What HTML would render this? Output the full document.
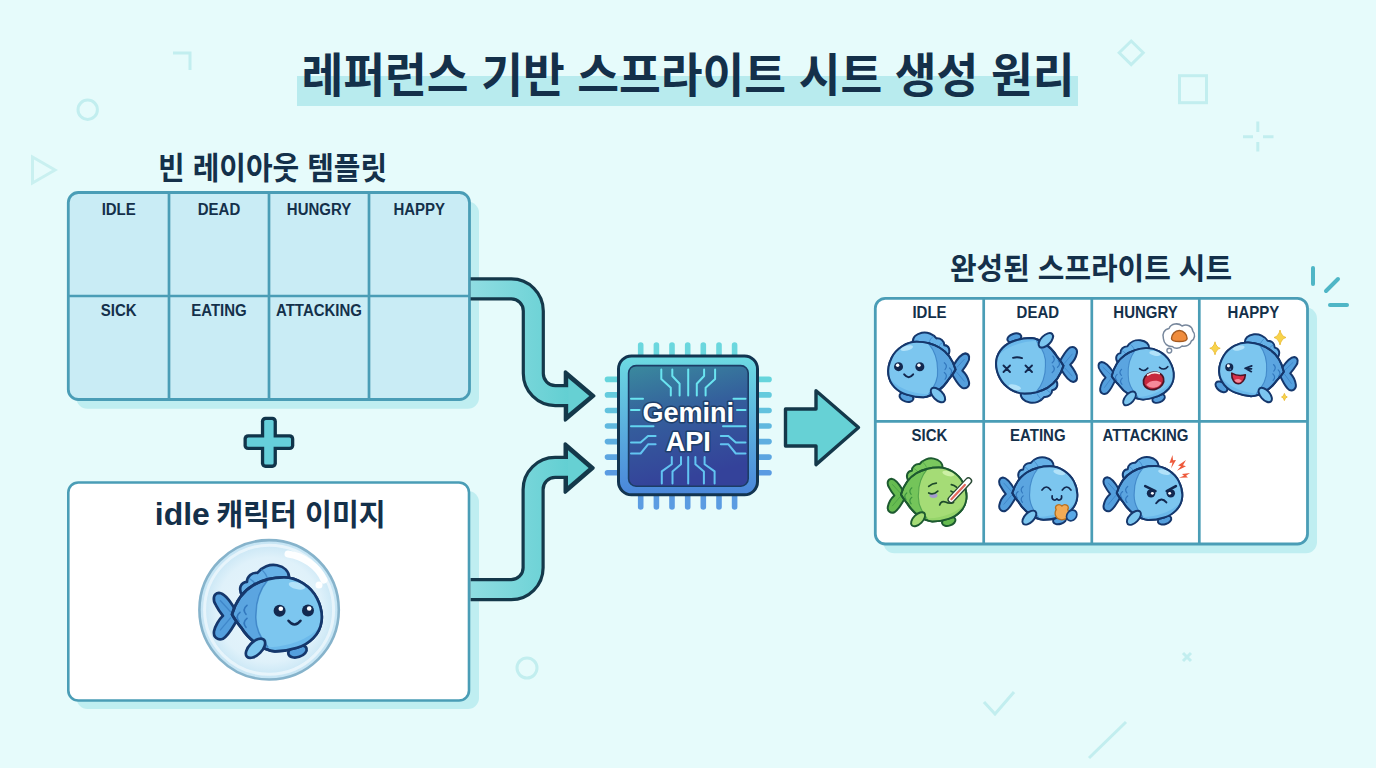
<!DOCTYPE html>
<html lang="ko"><head><meta charset="utf-8"><title>레퍼런스 기반 스프라이트 시트 생성 원리</title>
<style>html,body{margin:0;padding:0;background:#e6fbfb;overflow:hidden}svg{display:block}text{font-kerning:normal}</style></head>
<body><svg width="1376" height="768" viewBox="0 0 1376 768">
<defs>
<linearGradient id="gArrow" x1="0" y1="0" x2="1" y2="0"><stop offset="0" stop-color="#8fdde2"/><stop offset="1" stop-color="#62cfd2"/></linearGradient>
<linearGradient id="gFrame" x1="0" y1="0" x2="0" y2="1"><stop offset="0" stop-color="#6ddbe2"/><stop offset="1" stop-color="#4a86da"/></linearGradient>
<linearGradient id="gPanel" x1="0" y1="0" x2="0.25" y2="1"><stop offset="0" stop-color="#3a8a9e"/><stop offset="0.45" stop-color="#345f9c"/><stop offset="1" stop-color="#34429a"/></linearGradient>
<linearGradient id="gPinV" x1="0" y1="0" x2="0" y2="1" gradientUnits="userSpaceOnUse"><stop offset="0" stop-color="#62d3da"/><stop offset="1" stop-color="#5a9be2"/></linearGradient>
<radialGradient id="gBubble" cx="0.5" cy="0.5" r="0.5"><stop offset="0" stop-color="#e9f6fc"/><stop offset="0.75" stop-color="#dff1fa"/><stop offset="1" stop-color="#c4e4f4"/></radialGradient>
</defs>
<rect width="1376" height="768" fill="#e6fbfb"/>
<g fill="none" stroke="#c2eeef" stroke-width="3" stroke-linecap="butt" stroke-linejoin="miter">
<path d="M173,53 H190 V70"/>
<circle cx="87.700" cy="109.700" r="9.700"/>
<path d="M32.500,157 L55,170 L32.500,183 Z" stroke="#c9f0f0"/>
<path d="M1131.2,41 L1143.2,52.800 L1131.2,64.600 L1119.2,52.800 Z"/>
<rect x="1179.5" y="75.700" width="27" height="27"/>
<path d="M1257.8,121.500 V132 M1257.8,142 V151.500 M1243,136.800 H1253 M1263,136.800 H1273.500"/>
<circle cx="527" cy="668" r="10"/>
<path d="M1183,653 L1191,661 M1191,653 L1183,661"/>
<path d="M984,702 L995,714 L1014,692"/>
<path d="M1089,758 L1126,722"/>
</g>
<g fill="none" stroke="#4fb6c6" stroke-width="4" stroke-linecap="round"><path d="M1313,268 V284"/><path d="M1326,291 L1338,279"/><path d="M1330,305 H1347"/></g>
<rect x="297" y="76" width="781" height="30" fill="#b8ebee"/>
<text x="688" y="92" text-anchor="middle" font-family='"Liberation Sans", "Noto Sans CJK KR", sans-serif' font-weight="700" font-size="46.4" fill="#14304a" textLength="773" lengthAdjust="spacingAndGlyphs">레퍼런스 기반 스프라이트 시트 생성 원리</text>
<text x="272.6" y="178.8" text-anchor="middle" font-family='"Liberation Sans", "Noto Sans CJK KR", sans-serif' font-weight="700" font-size="31" fill="#14304a" textLength="229" lengthAdjust="spacingAndGlyphs">빈 레이아웃 템플릿</text>
<rect x="76.3" y="201.8" width="402.7" height="207.0" rx="11" fill="#bfeef1"/>
<rect x="68.3" y="192.5" width="401.2" height="207.0" rx="10" fill="#c9ecf5" stroke="#4a9db6" stroke-width="2.8"/>
<path d="M169,192.5 V399.5 M269,192.5 V399.5 M369,192.5 V399.5 M68.3,296 H469.5" stroke="#4a9db6" stroke-width="2.7" fill="none"/>
<text transform="translate(118.7,215) scale(1,1.12)" text-anchor="middle" font-family='"Liberation Sans", "Noto Sans CJK KR", sans-serif' font-weight="700" font-size="15" fill="#14304a">IDLE</text>
<text transform="translate(219.0,215) scale(1,1.12)" text-anchor="middle" font-family='"Liberation Sans", "Noto Sans CJK KR", sans-serif' font-weight="700" font-size="15" fill="#14304a">DEAD</text>
<text transform="translate(319.0,215) scale(1,1.12)" text-anchor="middle" font-family='"Liberation Sans", "Noto Sans CJK KR", sans-serif' font-weight="700" font-size="15" fill="#14304a">HUNGRY</text>
<text transform="translate(419.2,215) scale(1,1.12)" text-anchor="middle" font-family='"Liberation Sans", "Noto Sans CJK KR", sans-serif' font-weight="700" font-size="15" fill="#14304a">HAPPY</text>
<text transform="translate(118.7,316) scale(1,1.12)" text-anchor="middle" font-family='"Liberation Sans", "Noto Sans CJK KR", sans-serif' font-weight="700" font-size="15" fill="#14304a">SICK</text>
<text transform="translate(219.0,316) scale(1,1.12)" text-anchor="middle" font-family='"Liberation Sans", "Noto Sans CJK KR", sans-serif' font-weight="700" font-size="15" fill="#14304a">EATING</text>
<text transform="translate(319.0,316) scale(1,1.12)" text-anchor="middle" font-family='"Liberation Sans", "Noto Sans CJK KR", sans-serif' font-weight="700" font-size="15" fill="#14304a">ATTACKING</text>
<rect x="260.9" y="416.7" width="16" height="51.2" rx="4.6" fill="#10344a"/><rect x="243.5" y="434.2" width="50.8" height="15.9" rx="4.6" fill="#10344a"/>
<rect x="264.2" y="420" width="9.4" height="44.6" rx="1.6" fill="#66cfda"/><rect x="246.8" y="437.5" width="44.2" height="9.3" rx="1.6" fill="#66cfda"/>
<rect x="76.5" y="491" width="402.5" height="218" rx="11" fill="#bfeef1"/>
<rect x="68.3" y="482.5" width="400.7" height="218" rx="10" fill="#ffffff" stroke="#4a9db6" stroke-width="2.6"/>
<text y="525" font-family='"Liberation Sans", "Noto Sans CJK KR", sans-serif' font-weight="700" fill="#14304a"><tspan x="154.8" font-size="31.5" textLength="55" lengthAdjust="spacingAndGlyphs">idle</tspan><tspan font-size="28.5" textLength="8" lengthAdjust="spacingAndGlyphs"> </tspan><tspan x="216.2" y="525.4" font-size="29.6" textLength="169.5" lengthAdjust="spacingAndGlyphs">캐릭터 이미지</tspan></text>
<g>
<path d="M470.6,288.9 H511.3 A22,22 0 0 1 533.3,310.9 V373.6 A22,22 0 0 0 555.3,395.6 H570" fill="none" stroke="#14384a" stroke-width="23.2"/>
<polygon points="565.3,371.8 593.9,395.9 565.3,420.1" fill="#14384a" stroke="#14384a" stroke-width="3.2" stroke-linejoin="round"/>
<path d="M470.6,288.9 H511.3 A22,22 0 0 1 533.3,310.9 V373.6 A22,22 0 0 0 555.3,395.6 H570" fill="none" stroke="url(#gArrow)" stroke-width="16.8"/>
<polygon points="568.2,378.2 589.3,395.9 568.2,413.6" fill="#66d0d3"/>
<path d="M470.6,589.7 H511.1 A22,22 0 0 0 533.1,567.7 V489.4 A22,22 0 0 1 555.1,467.4 H570" fill="none" stroke="#14384a" stroke-width="23.2"/>
<polygon points="565.1,443.8 593.2,468 565.1,492.2" fill="#14384a" stroke="#14384a" stroke-width="3.2" stroke-linejoin="round"/>
<path d="M470.6,589.7 H511.1 A22,22 0 0 0 533.1,567.7 V489.4 A22,22 0 0 1 555.1,467.4 H570" fill="none" stroke="url(#gArrow)" stroke-width="16.8"/>
<polygon points="568,450.2 588.6,468 568,485.8" fill="#66d0d3"/>
</g>
<path d="M785.5,409 H816 V390.8 L858.5,427.5 L816,464.6 V446 H785.5 Z" fill="#66d1d5" stroke="#14384a" stroke-width="3.4" stroke-linejoin="round"/>
<g stroke-linecap="round" stroke-width="5.6" fill="none">
<path d="M640.7,345 V358" stroke="#6bd7de"/>
<path d="M640.7,492 V507" stroke="#5b9ce2"/>
<path d="M656.4,345 V358" stroke="#6bd7de"/>
<path d="M656.4,492 V507" stroke="#5b9ce2"/>
<path d="M672.0,345 V358" stroke="#6bd7de"/>
<path d="M672.0,492 V507" stroke="#5b9ce2"/>
<path d="M687.7,345 V358" stroke="#6bd7de"/>
<path d="M687.7,492 V507" stroke="#5b9ce2"/>
<path d="M703.3,345 V358" stroke="#6bd7de"/>
<path d="M703.3,492 V507" stroke="#5b9ce2"/>
<path d="M719.0,345 V358" stroke="#6bd7de"/>
<path d="M719.0,492 V507" stroke="#5b9ce2"/>
<path d="M734.6,345 V358" stroke="#6bd7de"/>
<path d="M734.6,492 V507" stroke="#5b9ce2"/>
<path d="M607.5,379.4 H620" stroke="#66d5dc"/>
<path d="M756,379.4 H769" stroke="#66d5dc"/>
<path d="M607.5,394.9 H620" stroke="#64cbdd"/>
<path d="M756,394.9 H769" stroke="#64cbdd"/>
<path d="M607.5,410.5 H620" stroke="#62c2de"/>
<path d="M756,410.5 H769" stroke="#62c2de"/>
<path d="M607.5,426.0 H620" stroke="#60b8df"/>
<path d="M756,426.0 H769" stroke="#60b8df"/>
<path d="M607.5,441.6 H620" stroke="#5eaee0"/>
<path d="M756,441.6 H769" stroke="#5eaee0"/>
<path d="M607.5,457.1 H620" stroke="#5ca5e1"/>
<path d="M756,457.1 H769" stroke="#5ca5e1"/>
<path d="M607.5,472.7 H620" stroke="#5a9be2"/>
<path d="M756,472.7 H769" stroke="#5a9be2"/>
</g>
<rect x="618.5" y="356.0" width="139.0" height="138.8" rx="13" fill="url(#gFrame)" stroke="#123450" stroke-width="3"/>
<rect x="628.6" y="365.6" width="119.6" height="120.6" rx="7.5" fill="url(#gPanel)" stroke="#1c3d66" stroke-width="1.6"/>
<g fill="none" stroke="#6ae4f0" stroke-width="2" stroke-linecap="round" stroke-linejoin="round">
<path d="M661.3,369.5 V379 L670.8,387.7 V395.5"/><path d="M672.3,369.5 V376 L679.6,383.8 V395.5"/><path d="M688.2,369.5 V395.5"/><path d="M704.1,369.5 V376 L696.8,383.8 V395.5"/><path d="M715.1,369.5 V379 L705.6,387.7 V395.5"/>
<path d="M671.8,457 V464.3 L661.8,471.4 V483.5" stroke="#62c4f2"/><path d="M681,457 V464.3 L672.5,471.4 V483.5" stroke="#62c4f2"/><path d="M688.2,457 V483.5" stroke="#62c4f2"/><path d="M695.4,457 V464.3 L703.9,471.4 V483.5" stroke="#62c4f2"/><path d="M704.6,457 V464.3 L714.6,471.4 V483.5" stroke="#62c4f2"/>
<path d="M631,398.700 H643"/><path d="M631,409.900 H639.500"/><path d="M631,426.300 H653.500" stroke="#62d4f0"/><path d="M631,442.400 H640.600 L648,435.900 H655.600" stroke="#62ccf0"/><path d="M631,453.500 H640.600 L648,444.300 H655.600" stroke="#62c4f2"/>
<path d="M745.500,398.700 H733.500"/><path d="M745.500,409.900 H737"/><path d="M745.500,426.300 H723" stroke="#62d4f0"/><path d="M745.500,442.400 H735.800 L728.400,435.900 H720.800" stroke="#62ccf0"/><path d="M745.500,453.500 H735.800 L728.400,444.300 H720.800" stroke="#62c4f2"/>
</g>
<g font-family='"Liberation Sans", "Noto Sans CJK KR", sans-serif' font-weight="700" font-size="27" text-anchor="middle" fill="#ffffff" stroke="#1f3f6a" stroke-width="3" stroke-linejoin="round" paint-order="stroke"><text x="688.3" y="422.3">Gemini</text><text x="688.3" y="451.2">API</text></g>
<text x="1091" y="279" text-anchor="middle" font-family='"Liberation Sans", "Noto Sans CJK KR", sans-serif' font-weight="700" font-size="30" fill="#14304a" textLength="282" lengthAdjust="spacingAndGlyphs">완성된 스프라이트 시트</text>
<rect x="883.3" y="307.6" width="433.70000000000005" height="245.7" rx="11" fill="#bfeef1"/>
<rect x="875.3" y="298.3" width="432.20000000000005" height="245.7" rx="10" fill="#ffffff" stroke="#4a9db6" stroke-width="2.8"/>
<path d="M983.7,298.3 V544 M1091.8,298.3 V544 M1199.3,298.3 V544 M875.3,421.4 H1307.5" stroke="#4a9db6" stroke-width="2.7" fill="none"/>
<text transform="translate(929.5,317.9) scale(1,1.06)" text-anchor="middle" font-family='"Liberation Sans", "Noto Sans CJK KR", sans-serif' font-weight="700" font-size="15" fill="#14304a">IDLE</text>
<text transform="translate(1037.8,317.9) scale(1,1.06)" text-anchor="middle" font-family='"Liberation Sans", "Noto Sans CJK KR", sans-serif' font-weight="700" font-size="15" fill="#14304a">DEAD</text>
<text transform="translate(1145.5,317.9) scale(1,1.06)" text-anchor="middle" font-family='"Liberation Sans", "Noto Sans CJK KR", sans-serif' font-weight="700" font-size="15" fill="#14304a">HUNGRY</text>
<text transform="translate(1253.4,317.9) scale(1,1.06)" text-anchor="middle" font-family='"Liberation Sans", "Noto Sans CJK KR", sans-serif' font-weight="700" font-size="15" fill="#14304a">HAPPY</text>
<text transform="translate(929.5,440.7) scale(1,1.06)" text-anchor="middle" font-family='"Liberation Sans", "Noto Sans CJK KR", sans-serif' font-weight="700" font-size="15" fill="#14304a">SICK</text>
<text transform="translate(1037.8,440.7) scale(1,1.06)" text-anchor="middle" font-family='"Liberation Sans", "Noto Sans CJK KR", sans-serif' font-weight="700" font-size="15" fill="#14304a">EATING</text>
<text transform="translate(1145.5,440.7) scale(1,1.06)" text-anchor="middle" font-family='"Liberation Sans", "Noto Sans CJK KR", sans-serif' font-weight="700" font-size="15" fill="#14304a">ATTACKING</text>
<circle cx="269.1" cy="609.8" r="69.7" fill="url(#gBubble)" stroke="#86b3cb" stroke-width="2.6"/>
<circle cx="269.1" cy="609.8" r="64.5" fill="none" stroke="#f2fafe" stroke-width="3" opacity=".7"/>
<path d="M288,554 C303,556 318,566 324,580" fill="none" stroke="#ffffff" stroke-width="7" stroke-linecap="round" opacity=".95"/>
<circle cx="319" cy="585" r="3.5" fill="#ffffff"/>
<g transform="translate(277,614.3) rotate(0) scale(1.0000,1.0000)" stroke-linejoin="round"><ellipse cx="20.5" cy="37" rx="9.500" ry="5.800" transform="rotate(-18 20.5 37)" fill="#549fdd" stroke="#15376c" stroke-width="2.7"/><path d="M -35,-19 C -39,-26 -36,-32 -30,-32.5 C -30,-38 -25,-42 -19.5,-41.5 C -15,-47.5 -7,-50.5 0,-49 C 7,-47.5 12.5,-43 12,-36 L 0,-28 Z" fill="#66b1e7" stroke="#15376c" stroke-width="2.7"/><path d="M -28,-36 C -24,-34 -22,-31 -21,-28 M -16,-45 C -12,-42 -10,-38 -9,-34" fill="none" stroke="#3277bd" stroke-width="1.300" opacity=".6"/><path d="M -42,-5 C -46,-12 -52,-21 -58,-21.5 C -64,-21 -64.5,-14 -61,-9 C -59,-5 -56,-1 -54,1.5 C -58,5 -62,12 -63,17 C -64,23 -59,26.5 -54,24.5 C -48,21 -44,12 -40,6 Z" fill="#549fdd" stroke="#15376c" stroke-width="2.7"/><path d="M -46,-2 L -57,-14 M -46,3 L -57,16" fill="none" stroke="#3277bd" stroke-width="1.300" opacity=".6"/><path d="M -45,0 C -42,-10 -36,-22 -24,-29 C -14,-35 -4,-37 7,-37 C 20,-37 34,-28 40,-16 C 44,-8 45.5,0 44.5,7 C 43,20 32,30 20,33.5 C 12,36 4,37 -2,37 C -14,36 -28,26 -36,13 C -40,8 -43,4 -45,0 Z" fill="#5ba5e0" stroke="#15376c" stroke-width="2.7"/><path d="M -9,-34.5 C -4,-37 0,-37 7,-37 C 20,-37 34,-28 40,-16 C 44,-8 45.5,0 44.5,7 C 43,20 32,30 20,33.5 C 12,36 4,37 -2,37 C -5,36.5 -7,35 -9,33 C -18,22 -22,10 -21,0 C -21,-12 -17,-25 -9,-34.5 Z" fill="#7cc6ef"/><path d="M -9,33 C 4,33 30,28 43,12 C 42,22 32,30 20,33.500 C 12,36 4,37 -2,37 C -5,36.500 -7,35 -9,33 Z" fill="#6bb9eb"/><ellipse cx="20" cy="-28.500" rx="8.500" ry="3.400" transform="rotate(14 20 -28.500)" fill="#b2e2f9"/><path d="M -9,-34.500 C -17,-25 -21,-12 -21,0 C -22,10 -18,22 -9,33" fill="none" stroke="#3277bd" stroke-width="1.500" opacity=".7"/><g fill="none" stroke="#3277bd" stroke-width="1.600" stroke-linecap="round"><path d="M -30,-9 q -5,4 -1,9"/><path d="M -37,-2 q -5,4 -1,9"/><path d="M -30,4 q -5,4 -1,9"/></g><path d="M -45,0 C -42,-10 -36,-22 -24,-29 C -14,-35 -4,-37 7,-37 C 20,-37 34,-28 40,-16 C 44,-8 45.5,0 44.5,7 C 43,20 32,30 20,33.5 C 12,36 4,37 -2,37 C -14,36 -28,26 -36,13 C -40,8 -43,4 -45,0 Z" fill="none" stroke="#15376c" stroke-width="2.7"/><circle cx="2.6" cy="-3.6" r="6" fill="#12284f"/><circle cx="31" cy="-3.8" r="6" fill="#12284f"/><circle cx="3.8" cy="-5.6" r="2.3" fill="#fff"/><circle cx="32.2" cy="-5.8" r="2.3" fill="#fff"/><path d="M 11.5,6.5 Q 17.5,14 23.5,6.5" fill="none" stroke="#12284f" stroke-width="2.6" stroke-linecap="round"/><ellipse cx="-21.500" cy="34" rx="12" ry="6.500" transform="rotate(-45 -21.500 34)" fill="#7cc6ef" stroke="#15376c" stroke-width="2.7"/></g>
<g transform="translate(921.8,369.5) rotate(0) scale(-0.7500,0.7500)" stroke-linejoin="round"><ellipse cx="20.5" cy="37" rx="9.500" ry="5.800" transform="rotate(-18 20.5 37)" fill="#549fdd" stroke="#15376c" stroke-width="2.7"/><path d="M -35,-19 C -39,-26 -36,-32 -30,-32.5 C -30,-38 -25,-42 -19.5,-41.5 C -15,-47.5 -7,-50.5 0,-49 C 7,-47.5 12.5,-43 12,-36 L 0,-28 Z" fill="#66b1e7" stroke="#15376c" stroke-width="2.7"/><path d="M -28,-36 C -24,-34 -22,-31 -21,-28 M -16,-45 C -12,-42 -10,-38 -9,-34" fill="none" stroke="#3277bd" stroke-width="1.300" opacity=".6"/><path d="M -42,-5 C -46,-12 -52,-21 -58,-21.5 C -64,-21 -64.5,-14 -61,-9 C -59,-5 -56,-1 -54,1.5 C -58,5 -62,12 -63,17 C -64,23 -59,26.5 -54,24.5 C -48,21 -44,12 -40,6 Z" fill="#549fdd" stroke="#15376c" stroke-width="2.7"/><path d="M -46,-2 L -57,-14 M -46,3 L -57,16" fill="none" stroke="#3277bd" stroke-width="1.300" opacity=".6"/><path d="M -45,0 C -42,-10 -36,-22 -24,-29 C -14,-35 -4,-37 7,-37 C 20,-37 34,-28 40,-16 C 44,-8 45.5,0 44.5,7 C 43,20 32,30 20,33.5 C 12,36 4,37 -2,37 C -14,36 -28,26 -36,13 C -40,8 -43,4 -45,0 Z" fill="#5ba5e0" stroke="#15376c" stroke-width="2.7"/><path d="M -9,-34.5 C -4,-37 0,-37 7,-37 C 20,-37 34,-28 40,-16 C 44,-8 45.5,0 44.5,7 C 43,20 32,30 20,33.5 C 12,36 4,37 -2,37 C -5,36.5 -7,35 -9,33 C -18,22 -22,10 -21,0 C -21,-12 -17,-25 -9,-34.5 Z" fill="#7cc6ef"/><path d="M -9,33 C 4,33 30,28 43,12 C 42,22 32,30 20,33.500 C 12,36 4,37 -2,37 C -5,36.500 -7,35 -9,33 Z" fill="#6bb9eb"/><ellipse cx="20" cy="-28.500" rx="8.500" ry="3.400" transform="rotate(14 20 -28.500)" fill="#b2e2f9"/><path d="M -9,-34.500 C -17,-25 -21,-12 -21,0 C -22,10 -18,22 -9,33" fill="none" stroke="#3277bd" stroke-width="1.500" opacity=".7"/><g fill="none" stroke="#3277bd" stroke-width="1.600" stroke-linecap="round"><path d="M -30,-9 q -5,4 -1,9"/><path d="M -37,-2 q -5,4 -1,9"/><path d="M -30,4 q -5,4 -1,9"/></g><path d="M -45,0 C -42,-10 -36,-22 -24,-29 C -14,-35 -4,-37 7,-37 C 20,-37 34,-28 40,-16 C 44,-8 45.5,0 44.5,7 C 43,20 32,30 20,33.5 C 12,36 4,37 -2,37 C -14,36 -28,26 -36,13 C -40,8 -43,4 -45,0 Z" fill="none" stroke="#15376c" stroke-width="2.7"/><circle cx="2.6" cy="-3.6" r="6" fill="#12284f"/><circle cx="31" cy="-3.8" r="6" fill="#12284f"/><circle cx="3.8" cy="-5.6" r="2.3" fill="#fff"/><circle cx="32.2" cy="-5.8" r="2.3" fill="#fff"/><path d="M 11.5,6.5 Q 17.5,14 23.5,6.5" fill="none" stroke="#12284f" stroke-width="2.6" stroke-linecap="round"/><ellipse cx="-21.500" cy="34" rx="12" ry="6.500" transform="rotate(-45 -21.500 34)" fill="#7cc6ef" stroke="#15376c" stroke-width="2.7"/></g>
<g transform="translate(1029.7,365.8) rotate(180) scale(0.7500,0.7500)" stroke-linejoin="round"><ellipse cx="20.5" cy="37" rx="9.500" ry="5.800" transform="rotate(-18 20.5 37)" fill="#549fdd" stroke="#15376c" stroke-width="2.7"/><path d="M -35,-19 C -39,-26 -36,-32 -30,-32.5 C -30,-38 -25,-42 -19.5,-41.5 C -15,-47.5 -7,-50.5 0,-49 C 7,-47.5 12.5,-43 12,-36 L 0,-28 Z" fill="#66b1e7" stroke="#15376c" stroke-width="2.7"/><path d="M -28,-36 C -24,-34 -22,-31 -21,-28 M -16,-45 C -12,-42 -10,-38 -9,-34" fill="none" stroke="#3277bd" stroke-width="1.300" opacity=".6"/><path d="M -42,-5 C -46,-12 -52,-21 -58,-21.5 C -64,-21 -64.5,-14 -61,-9 C -59,-5 -56,-1 -54,1.5 C -58,5 -62,12 -63,17 C -64,23 -59,26.5 -54,24.5 C -48,21 -44,12 -40,6 Z" fill="#549fdd" stroke="#15376c" stroke-width="2.7"/><path d="M -46,-2 L -57,-14 M -46,3 L -57,16" fill="none" stroke="#3277bd" stroke-width="1.300" opacity=".6"/><path d="M -45,0 C -42,-10 -36,-22 -24,-29 C -14,-35 -4,-37 7,-37 C 20,-37 34,-28 40,-16 C 44,-8 45.5,0 44.5,7 C 43,20 32,30 20,33.5 C 12,36 4,37 -2,37 C -14,36 -28,26 -36,13 C -40,8 -43,4 -45,0 Z" fill="#5ba5e0" stroke="#15376c" stroke-width="2.7"/><path d="M -9,-34.5 C -4,-37 0,-37 7,-37 C 20,-37 34,-28 40,-16 C 44,-8 45.5,0 44.5,7 C 43,20 32,30 20,33.5 C 12,36 4,37 -2,37 C -5,36.5 -7,35 -9,33 C -18,22 -22,10 -21,0 C -21,-12 -17,-25 -9,-34.5 Z" fill="#7cc6ef"/><path d="M -9,33 C 4,33 30,28 43,12 C 42,22 32,30 20,33.500 C 12,36 4,37 -2,37 C -5,36.500 -7,35 -9,33 Z" fill="#6bb9eb"/><ellipse cx="20" cy="-28.500" rx="8.500" ry="3.400" transform="rotate(14 20 -28.500)" fill="#b2e2f9"/><path d="M -9,-34.500 C -17,-25 -21,-12 -21,0 C -22,10 -18,22 -9,33" fill="none" stroke="#3277bd" stroke-width="1.500" opacity=".7"/><g fill="none" stroke="#3277bd" stroke-width="1.600" stroke-linecap="round"><path d="M -30,-9 q -5,4 -1,9"/><path d="M -37,-2 q -5,4 -1,9"/><path d="M -30,4 q -5,4 -1,9"/></g><path d="M -45,0 C -42,-10 -36,-22 -24,-29 C -14,-35 -4,-37 7,-37 C 20,-37 34,-28 40,-16 C 44,-8 45.5,0 44.5,7 C 43,20 32,30 20,33.5 C 12,36 4,37 -2,37 C -14,36 -28,26 -36,13 C -40,8 -43,4 -45,0 Z" fill="none" stroke="#15376c" stroke-width="2.7"/><ellipse cx="-21.500" cy="34" rx="12" ry="6.500" transform="rotate(-45 -21.500 34)" fill="#7cc6ef" stroke="#15376c" stroke-width="2.7"/></g>
<g fill="none" stroke="#12284f" stroke-width="1.9" stroke-linecap="round"><path d="M1003.5,365.500 l6.500,6.500 m0,-6.500 l-6.500,6.500"/><path d="M1025.5,365.500 l6.500,6.500 m0,-6.500 l-6.500,6.500"/><path d="M1013,357.800 q4.500,-1.200 9,0.300"/></g>
<g transform="translate(1142.7,374) rotate(-4) scale(0.6900,0.6900)" stroke-linejoin="round"><ellipse cx="20.5" cy="37" rx="9.500" ry="5.800" transform="rotate(-18 20.5 37)" fill="#549fdd" stroke="#15376c" stroke-width="2.7"/><path d="M -35,-19 C -39,-26 -36,-32 -30,-32.5 C -30,-38 -25,-42 -19.5,-41.5 C -15,-47.5 -7,-50.5 0,-49 C 7,-47.5 12.5,-43 12,-36 L 0,-28 Z" fill="#66b1e7" stroke="#15376c" stroke-width="2.7"/><path d="M -28,-36 C -24,-34 -22,-31 -21,-28 M -16,-45 C -12,-42 -10,-38 -9,-34" fill="none" stroke="#3277bd" stroke-width="1.300" opacity=".6"/><path d="M -42,-5 C -46,-12 -52,-21 -58,-21.5 C -64,-21 -64.5,-14 -61,-9 C -59,-5 -56,-1 -54,1.5 C -58,5 -62,12 -63,17 C -64,23 -59,26.5 -54,24.5 C -48,21 -44,12 -40,6 Z" fill="#549fdd" stroke="#15376c" stroke-width="2.7"/><path d="M -46,-2 L -57,-14 M -46,3 L -57,16" fill="none" stroke="#3277bd" stroke-width="1.300" opacity=".6"/><path d="M -45,0 C -42,-10 -36,-22 -24,-29 C -14,-35 -4,-37 7,-37 C 20,-37 34,-28 40,-16 C 44,-8 45.5,0 44.5,7 C 43,20 32,30 20,33.5 C 12,36 4,37 -2,37 C -14,36 -28,26 -36,13 C -40,8 -43,4 -45,0 Z" fill="#5ba5e0" stroke="#15376c" stroke-width="2.7"/><path d="M -9,-34.5 C -4,-37 0,-37 7,-37 C 20,-37 34,-28 40,-16 C 44,-8 45.5,0 44.5,7 C 43,20 32,30 20,33.5 C 12,36 4,37 -2,37 C -5,36.5 -7,35 -9,33 C -18,22 -22,10 -21,0 C -21,-12 -17,-25 -9,-34.5 Z" fill="#7cc6ef"/><path d="M -9,33 C 4,33 30,28 43,12 C 42,22 32,30 20,33.500 C 12,36 4,37 -2,37 C -5,36.500 -7,35 -9,33 Z" fill="#6bb9eb"/><ellipse cx="20" cy="-28.500" rx="8.500" ry="3.400" transform="rotate(14 20 -28.500)" fill="#b2e2f9"/><path d="M -9,-34.500 C -17,-25 -21,-12 -21,0 C -22,10 -18,22 -9,33" fill="none" stroke="#3277bd" stroke-width="1.500" opacity=".7"/><g fill="none" stroke="#3277bd" stroke-width="1.600" stroke-linecap="round"><path d="M -30,-9 q -5,4 -1,9"/><path d="M -37,-2 q -5,4 -1,9"/><path d="M -30,4 q -5,4 -1,9"/></g><path d="M -45,0 C -42,-10 -36,-22 -24,-29 C -14,-35 -4,-37 7,-37 C 20,-37 34,-28 40,-16 C 44,-8 45.5,0 44.5,7 C 43,20 32,30 20,33.5 C 12,36 4,37 -2,37 C -14,36 -28,26 -36,13 C -40,8 -43,4 -45,0 Z" fill="none" stroke="#15376c" stroke-width="2.7"/><g fill="none" stroke="#12284f" stroke-width="2.3" stroke-linecap="round"><path d="M -4,-8 Q 2,-2 8,-8"/><path d="M 25,-8 Q 31,-2 37,-8"/></g><ellipse cx="15" cy="11" rx="15" ry="12.5" fill="#c7283d" stroke="#4a1426" stroke-width="2.4" transform="rotate(-12 15 11)"/><path d="M 4,16 C 8,10 20,9 26,14 C 24,21 10,24 4,16 Z" fill="#f58a9a"/><path d="M 7,2 C 12,-1 19,-1.500 24,1" fill="none" stroke="#fff" stroke-width="2.5" stroke-linecap="round" opacity=".9"/><ellipse cx="-21.500" cy="34" rx="12" ry="6.500" transform="rotate(-45 -21.500 34)" fill="#7cc6ef" stroke="#15376c" stroke-width="2.7"/></g>
<path d="M1163.5,339 c-2,-5 1,-10 6,-10.500 c2,-5 10,-6 14,-2.500 c5,-2.500 11,0 11.500,5 c3,3 2.500,8 -1.500,10 c-1,4 -6,6 -10,5 c-3,3 -8,3 -10.500,0.500 c-5,0.500 -9,-3 -9.500,-7.500 z" transform="translate(1163 0) scale(0.93 1) translate(-1163 0)" fill="#fff" stroke="#77879c" stroke-width="1.600" stroke-linejoin="round"/>
<circle cx="1169.3" cy="350.6" r="2.400" fill="#fff" stroke="#7a8aa0" stroke-width="1.400"/>
<path d="M1171.5,338.500 c0,-4 3.500,-8 7.800,-8 c4.300,0 7.800,4 7.800,8 c0,2 -3,3 -7.800,3 c-4.800,0 -7.800,-1 -7.800,-3 z" fill="#f08c3c" stroke="#a45a20" stroke-width="1.400" stroke-linejoin="round"/>
<g transform="translate(1251.5,369.5) rotate(4) scale(-0.7200,0.7200)" stroke-linejoin="round"><ellipse cx="40" cy="27" rx="9.500" ry="5.800" transform="rotate(-35 40 27)" fill="#549fdd" stroke="#15376c" stroke-width="2.7"/><path d="M -35,-19 C -39,-26 -36,-32 -30,-32.5 C -30,-38 -25,-42 -19.5,-41.5 C -15,-47.5 -7,-50.5 0,-49 C 7,-47.5 12.5,-43 12,-36 L 0,-28 Z" fill="#66b1e7" stroke="#15376c" stroke-width="2.7"/><path d="M -28,-36 C -24,-34 -22,-31 -21,-28 M -16,-45 C -12,-42 -10,-38 -9,-34" fill="none" stroke="#3277bd" stroke-width="1.300" opacity=".6"/><path d="M -42,-5 C -46,-12 -52,-21 -58,-21.5 C -64,-21 -64.5,-14 -61,-9 C -59,-5 -56,-1 -54,1.5 C -58,5 -62,12 -63,17 C -64,23 -59,26.5 -54,24.5 C -48,21 -44,12 -40,6 Z" fill="#549fdd" stroke="#15376c" stroke-width="2.7"/><path d="M -46,-2 L -57,-14 M -46,3 L -57,16" fill="none" stroke="#3277bd" stroke-width="1.300" opacity=".6"/><path d="M -45,0 C -42,-10 -36,-22 -24,-29 C -14,-35 -4,-37 7,-37 C 20,-37 34,-28 40,-16 C 44,-8 45.5,0 44.5,7 C 43,20 32,30 20,33.5 C 12,36 4,37 -2,37 C -14,36 -28,26 -36,13 C -40,8 -43,4 -45,0 Z" fill="#5ba5e0" stroke="#15376c" stroke-width="2.7"/><path d="M -9,-34.5 C -4,-37 0,-37 7,-37 C 20,-37 34,-28 40,-16 C 44,-8 45.5,0 44.5,7 C 43,20 32,30 20,33.5 C 12,36 4,37 -2,37 C -5,36.5 -7,35 -9,33 C -18,22 -22,10 -21,0 C -21,-12 -17,-25 -9,-34.5 Z" fill="#7cc6ef"/><path d="M -9,33 C 4,33 30,28 43,12 C 42,22 32,30 20,33.500 C 12,36 4,37 -2,37 C -5,36.500 -7,35 -9,33 Z" fill="#6bb9eb"/><ellipse cx="20" cy="-28.500" rx="8.500" ry="3.400" transform="rotate(14 20 -28.500)" fill="#b2e2f9"/><path d="M -9,-34.500 C -17,-25 -21,-12 -21,0 C -22,10 -18,22 -9,33" fill="none" stroke="#3277bd" stroke-width="1.500" opacity=".7"/><g fill="none" stroke="#3277bd" stroke-width="1.600" stroke-linecap="round"><path d="M -30,-9 q -5,4 -1,9"/><path d="M -37,-2 q -5,4 -1,9"/><path d="M -30,4 q -5,4 -1,9"/></g><path d="M -45,0 C -42,-10 -36,-22 -24,-29 C -14,-35 -4,-37 7,-37 C 20,-37 34,-28 40,-16 C 44,-8 45.5,0 44.5,7 C 43,20 32,30 20,33.5 C 12,36 4,37 -2,37 C -14,36 -28,26 -36,13 C -40,8 -43,4 -45,0 Z" fill="none" stroke="#15376c" stroke-width="2.7"/><circle cx="31" cy="-1" r="5.6" fill="#12284f"/><circle cx="32.3" cy="-2.800" r="2.100" fill="#fff"/><circle cx="29.500" cy="1.500" r="1" fill="#5b8fd0"/><path d="M 0,-5 L 9,-1 L 0,3 M 9,-1 L 0,-1" fill="none" stroke="#12284f" stroke-width="2.4" stroke-linecap="round" stroke-linejoin="round"/><path d="M 8,8 C 14,10 21,10 27,7 C 27,16 22,21.500 16.500,21 C 12,20.500 8,15 8,8 Z" fill="#d9304a" stroke="#4a1426" stroke-width="2.2" stroke-linejoin="round"/><path d="M 12.500,16.500 C 15,14 20,14 22.500,16.500 C 21,20 14,20.500 12.500,16.500 Z" fill="#f58a9a"/><ellipse cx="-21.500" cy="34" rx="12" ry="6.500" transform="rotate(-45 -21.500 34)" fill="#7cc6ef" stroke="#15376c" stroke-width="2.7"/></g>
<path d="M1280,330.0 Q1281.26,336.24 1286.0,337.5 Q1281.26,338.76 1280,345.0 Q1278.74,338.76 1274.0,337.5 Q1278.74,336.24 1280,330.0 Z" fill="#f8d34a" stroke="#e8b72e" stroke-width="0.8" stroke-linejoin="round"/>
<path d="M1215,341.8 Q1216.092,347.208 1220.2,348.3 Q1216.092,349.392 1215,354.8 Q1213.908,349.392 1209.8,348.3 Q1213.908,347.208 1215,341.8 Z" fill="#f8d34a" stroke="#e8b72e" stroke-width="0.8" stroke-linejoin="round"/>
<path d="M1284.4,393.4 Q1285.0048000000002,396.3952 1287.2800000000002,397 Q1285.0048000000002,397.6048 1284.4,400.6 Q1283.7952,397.6048 1281.52,397 Q1283.7952,396.3952 1284.4,393.4 Z" fill="#f8d34a" stroke="#e8b72e" stroke-width="0.8" stroke-linejoin="round"/>
<g transform="translate(933.8,494.4) rotate(0) scale(0.7300,0.7300)" stroke-linejoin="round"><ellipse cx="20.5" cy="37" rx="9.500" ry="5.800" transform="rotate(-18 20.5 37)" fill="#66bb50" stroke="#1d5a30" stroke-width="2.7"/><path d="M -35,-19 C -39,-26 -36,-32 -30,-32.5 C -30,-38 -25,-42 -19.5,-41.5 C -15,-47.5 -7,-50.5 0,-49 C 7,-47.5 12.5,-43 12,-36 L 0,-28 Z" fill="#7ac85e" stroke="#1d5a30" stroke-width="2.7"/><path d="M -28,-36 C -24,-34 -22,-31 -21,-28 M -16,-45 C -12,-42 -10,-38 -9,-34" fill="none" stroke="#3c9440" stroke-width="1.300" opacity=".6"/><path d="M -42,-5 C -46,-12 -52,-21 -58,-21.5 C -64,-21 -64.5,-14 -61,-9 C -59,-5 -56,-1 -54,1.5 C -58,5 -62,12 -63,17 C -64,23 -59,26.5 -54,24.5 C -48,21 -44,12 -40,6 Z" fill="#66bb50" stroke="#1d5a30" stroke-width="2.7"/><path d="M -46,-2 L -57,-14 M -46,3 L -57,16" fill="none" stroke="#3c9440" stroke-width="1.300" opacity=".6"/><path d="M -45,0 C -42,-10 -36,-22 -24,-29 C -14,-35 -4,-37 7,-37 C 20,-37 34,-28 40,-16 C 44,-8 45.5,0 44.5,7 C 43,20 32,30 20,33.5 C 12,36 4,37 -2,37 C -14,36 -28,26 -36,13 C -40,8 -43,4 -45,0 Z" fill="#74c45a" stroke="#1d5a30" stroke-width="2.7"/><path d="M -9,-34.5 C -4,-37 0,-37 7,-37 C 20,-37 34,-28 40,-16 C 44,-8 45.5,0 44.5,7 C 43,20 32,30 20,33.5 C 12,36 4,37 -2,37 C -5,36.5 -7,35 -9,33 C -18,22 -22,10 -21,0 C -21,-12 -17,-25 -9,-34.5 Z" fill="#a5dc76"/><path d="M -9,33 C 4,33 30,28 43,12 C 42,22 32,30 20,33.500 C 12,36 4,37 -2,37 C -5,36.500 -7,35 -9,33 Z" fill="#95d46a"/><ellipse cx="20" cy="-28.500" rx="8.500" ry="3.400" transform="rotate(14 20 -28.500)" fill="#cdf0a6"/><path d="M -9,-34.500 C -17,-25 -21,-12 -21,0 C -22,10 -18,22 -9,33" fill="none" stroke="#3c9440" stroke-width="1.500" opacity=".7"/><g fill="none" stroke="#3c9440" stroke-width="1.600" stroke-linecap="round"><path d="M -30,-9 q -5,4 -1,9"/><path d="M -37,-2 q -5,4 -1,9"/><path d="M -30,4 q -5,4 -1,9"/></g><path d="M -45,0 C -42,-10 -36,-22 -24,-29 C -14,-35 -4,-37 7,-37 C 20,-37 34,-28 40,-16 C 44,-8 45.5,0 44.5,7 C 43,20 32,30 20,33.5 C 12,36 4,37 -2,37 C -14,36 -28,26 -36,13 C -40,8 -43,4 -45,0 Z" fill="none" stroke="#1d5a30" stroke-width="2.7"/><ellipse cx="-0.500" cy="1.500" rx="5.500" ry="3.400" fill="#a493d8" opacity=".9"/><g fill="none" stroke="#1d4a2a" stroke-width="2.3" stroke-linecap="round"><path d="M -7,-11 Q -2,-15.500 3.500,-15.500"/><path d="M -7,-2 Q -1,1.500 5.500,-4.500"/><path d="M 24,-13.500 Q 28,-13 31,-10"/><path d="M 23.500,-4.500 Q 26,-2.500 29,-3"/><path d="M 8,14.500 C 9,10 13,9 16,10.500 C 20,12.500 23,13 27,11"/></g><g transform="translate(21,10) rotate(-47)"><rect x="0" y="-4.200" width="43" height="8.400" rx="4.200" fill="#fff" stroke="#2a4a34" stroke-width="1.900"/><rect x="3" y="-1.500" width="30" height="3" rx="1.500" fill="#e2685c"/></g><ellipse cx="-21.500" cy="34" rx="12" ry="6.500" transform="rotate(-45 -21.500 34)" fill="#a5dc76" stroke="#1d5a30" stroke-width="2.7"/></g>
<g transform="translate(1044.9,493) rotate(0) scale(0.7240,0.7240)" stroke-linejoin="round"><ellipse cx="20.5" cy="37" rx="9.500" ry="5.800" transform="rotate(-18 20.5 37)" fill="#549fdd" stroke="#15376c" stroke-width="2.7"/><path d="M -35,-19 C -39,-26 -36,-32 -30,-32.5 C -30,-38 -25,-42 -19.5,-41.5 C -15,-47.5 -7,-50.5 0,-49 C 7,-47.5 12.5,-43 12,-36 L 0,-28 Z" fill="#66b1e7" stroke="#15376c" stroke-width="2.7"/><path d="M -28,-36 C -24,-34 -22,-31 -21,-28 M -16,-45 C -12,-42 -10,-38 -9,-34" fill="none" stroke="#3277bd" stroke-width="1.300" opacity=".6"/><path d="M -42,-5 C -46,-12 -52,-21 -58,-21.5 C -64,-21 -64.5,-14 -61,-9 C -59,-5 -56,-1 -54,1.5 C -58,5 -62,12 -63,17 C -64,23 -59,26.5 -54,24.5 C -48,21 -44,12 -40,6 Z" fill="#549fdd" stroke="#15376c" stroke-width="2.7"/><path d="M -46,-2 L -57,-14 M -46,3 L -57,16" fill="none" stroke="#3277bd" stroke-width="1.300" opacity=".6"/><path d="M -45,0 C -42,-10 -36,-22 -24,-29 C -14,-35 -4,-37 7,-37 C 20,-37 34,-28 40,-16 C 44,-8 45.5,0 44.5,7 C 43,20 32,30 20,33.5 C 12,36 4,37 -2,37 C -14,36 -28,26 -36,13 C -40,8 -43,4 -45,0 Z" fill="#5ba5e0" stroke="#15376c" stroke-width="2.7"/><path d="M -9,-34.5 C -4,-37 0,-37 7,-37 C 20,-37 34,-28 40,-16 C 44,-8 45.5,0 44.5,7 C 43,20 32,30 20,33.5 C 12,36 4,37 -2,37 C -5,36.5 -7,35 -9,33 C -18,22 -22,10 -21,0 C -21,-12 -17,-25 -9,-34.5 Z" fill="#7cc6ef"/><path d="M -9,33 C 4,33 30,28 43,12 C 42,22 32,30 20,33.500 C 12,36 4,37 -2,37 C -5,36.500 -7,35 -9,33 Z" fill="#6bb9eb"/><ellipse cx="20" cy="-28.500" rx="8.500" ry="3.400" transform="rotate(14 20 -28.500)" fill="#b2e2f9"/><path d="M -9,-34.500 C -17,-25 -21,-12 -21,0 C -22,10 -18,22 -9,33" fill="none" stroke="#3277bd" stroke-width="1.500" opacity=".7"/><g fill="none" stroke="#3277bd" stroke-width="1.600" stroke-linecap="round"><path d="M -30,-9 q -5,4 -1,9"/><path d="M -37,-2 q -5,4 -1,9"/><path d="M -30,4 q -5,4 -1,9"/></g><path d="M -45,0 C -42,-10 -36,-22 -24,-29 C -14,-35 -4,-37 7,-37 C 20,-37 34,-28 40,-16 C 44,-8 45.5,0 44.5,7 C 43,20 32,30 20,33.5 C 12,36 4,37 -2,37 C -14,36 -28,26 -36,13 C -40,8 -43,4 -45,0 Z" fill="none" stroke="#15376c" stroke-width="2.7"/><g fill="none" stroke="#12284f" stroke-width="2.3" stroke-linecap="round" stroke-linejoin="round"><path d="M -4,-4 Q 2,-12.500 8,-4"/><path d="M 24,-4 Q 30,-12.500 36,-4"/><path d="M 10,4 C 9,9.500 14,11.500 16.500,8 C 19,11.500 24,9.500 23,4"/></g><ellipse cx="-21.500" cy="34" rx="12" ry="6.500" transform="rotate(-45 -21.500 34)" fill="#7cc6ef" stroke="#15376c" stroke-width="2.7"/><path d="M 15.5,23 c -3,-6 4,-9 8,-5 c 4,-4 11,-1 8,5 c 3,5 1,14 -8,14 c -9,0 -11,-9 -8,-14 z" fill="#f2ab55" stroke="#b8701e" stroke-width="1.800"/><ellipse cx="37" cy="31" rx="8" ry="6.500" transform="rotate(-50 37 31)" fill="#5aa9e6" stroke="#173d73" stroke-width="2.300"/></g>
<g transform="translate(1149.6,493) rotate(0) scale(0.7300,0.7300)" stroke-linejoin="round"><ellipse cx="20.5" cy="37" rx="9.500" ry="5.800" transform="rotate(-18 20.5 37)" fill="#549fdd" stroke="#15376c" stroke-width="2.7"/><path d="M -35,-19 C -39,-26 -36,-32 -30,-32.5 C -30,-38 -25,-42 -19.5,-41.5 C -15,-47.5 -7,-50.5 0,-49 C 7,-47.5 12.5,-43 12,-36 L 0,-28 Z" fill="#66b1e7" stroke="#15376c" stroke-width="2.7"/><path d="M -28,-36 C -24,-34 -22,-31 -21,-28 M -16,-45 C -12,-42 -10,-38 -9,-34" fill="none" stroke="#3277bd" stroke-width="1.300" opacity=".6"/><path d="M -42,-5 C -46,-12 -52,-21 -58,-21.5 C -64,-21 -64.5,-14 -61,-9 C -59,-5 -56,-1 -54,1.5 C -58,5 -62,12 -63,17 C -64,23 -59,26.5 -54,24.5 C -48,21 -44,12 -40,6 Z" fill="#549fdd" stroke="#15376c" stroke-width="2.7"/><path d="M -46,-2 L -57,-14 M -46,3 L -57,16" fill="none" stroke="#3277bd" stroke-width="1.300" opacity=".6"/><path d="M -45,0 C -42,-10 -36,-22 -24,-29 C -14,-35 -4,-37 7,-37 C 20,-37 34,-28 40,-16 C 44,-8 45.5,0 44.5,7 C 43,20 32,30 20,33.5 C 12,36 4,37 -2,37 C -14,36 -28,26 -36,13 C -40,8 -43,4 -45,0 Z" fill="#5ba5e0" stroke="#15376c" stroke-width="2.7"/><path d="M -9,-34.5 C -4,-37 0,-37 7,-37 C 20,-37 34,-28 40,-16 C 44,-8 45.5,0 44.5,7 C 43,20 32,30 20,33.5 C 12,36 4,37 -2,37 C -5,36.5 -7,35 -9,33 C -18,22 -22,10 -21,0 C -21,-12 -17,-25 -9,-34.5 Z" fill="#7cc6ef"/><path d="M -9,33 C 4,33 30,28 43,12 C 42,22 32,30 20,33.500 C 12,36 4,37 -2,37 C -5,36.500 -7,35 -9,33 Z" fill="#6bb9eb"/><ellipse cx="20" cy="-28.500" rx="8.500" ry="3.400" transform="rotate(14 20 -28.500)" fill="#b2e2f9"/><path d="M -9,-34.500 C -17,-25 -21,-12 -21,0 C -22,10 -18,22 -9,33" fill="none" stroke="#3277bd" stroke-width="1.500" opacity=".7"/><g fill="none" stroke="#3277bd" stroke-width="1.600" stroke-linecap="round"><path d="M -30,-9 q -5,4 -1,9"/><path d="M -37,-2 q -5,4 -1,9"/><path d="M -30,4 q -5,4 -1,9"/></g><path d="M -45,0 C -42,-10 -36,-22 -24,-29 C -14,-35 -4,-37 7,-37 C 20,-37 34,-28 40,-16 C 44,-8 45.5,0 44.5,7 C 43,20 32,30 20,33.5 C 12,36 4,37 -2,37 C -14,36 -28,26 -36,13 C -40,8 -43,4 -45,0 Z" fill="none" stroke="#15376c" stroke-width="2.7"/><circle cx="2" cy="0.500" r="5.800" fill="#12284f"/><circle cx="29" cy="0.500" r="5.800" fill="#12284f"/><circle cx="3.800" cy="0.500" r="2" fill="#fff"/><circle cx="27.500" cy="0.500" r="2" fill="#fff"/><g fill="none" stroke="#12284f" stroke-width="3.600" stroke-linecap="round"><path d="M -6,-9.500 L 8,-2.500"/><path d="M 36,-9.500 L 23.500,-2.500"/></g><path d="M 9,14 Q 16,4.500 23,13" fill="none" stroke="#12284f" stroke-width="2.700" stroke-linecap="round"/><ellipse cx="-21.500" cy="34" rx="12" ry="6.500" transform="rotate(-45 -21.500 34)" fill="#7cc6ef" stroke="#15376c" stroke-width="2.7"/></g>
<g fill="#ee5a3c"><path d="M1172.5,455 l-3,8 l3,-0.500 l-1.500,6 l5,-8.500 l-3,0.300 z"/><path d="M1186,460 l-8,5.500 l3,0.800 l-4,4.500 l9,-4.500 l-3,-1 z"/><path d="M1190,473 l-8,1 l2,1.800 l-5,2 l9,-0.300 l-2,-1.800 z"/></g>
</svg></body></html>
